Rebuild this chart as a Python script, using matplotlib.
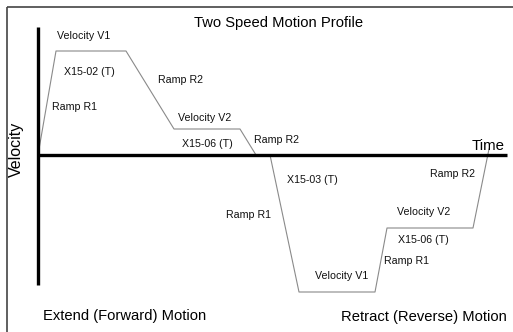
"""Two speed motion profile diagram."""
import matplotlib
matplotlib.use("Agg")
import matplotlib.pyplot as plt

plt.rcParams["font.family"] = ["Liberation Sans", "DejaVu Sans"]

# profile breakpoints (time, velocity) in drawing units
time_pts = [38, 56, 126, 174, 240, 256, 270, 299, 375, 387, 473, 489]
vel_pts = [0, 104, 104, 26, 26, 0, 0, -137, -137, -73, -73, 6]

# segment labels: (text, time, velocity)
seg_labels = [
    ("Velocity V1", 84, 119),
    ("X15-02 (T)", 89, 83),
    ("Ramp R1", 74, 48),
    ("Ramp R2", 180, 75),
    ("Velocity V2", 205, 37),
    ("X15-06 (T)", 207, 11),
    ("Ramp R2", 277, 15),
    ("X15-03 (T)", 312, -25),
    ("Ramp R1", 249, -60),
    ("Ramp R2", 453, -19),
    ("Velocity V2", 424, -57),
    ("X15-06 (T)", 423, -85),
    ("Ramp R1", 406, -106),
    ("Velocity V1", 342, -121),
]

fig = plt.figure(figsize=(5.13, 3.32), dpi=100, facecolor="white")
ax = fig.add_axes([0, 0, 1, 1])
ax.set_xlim(0, 513)
ax.set_ylim(-177, 155)
ax.axis("off")

# frame
ax.plot([6.5, 513], [148, 148], color="#444", lw=1.2, solid_capstyle="butt")
ax.plot([6.5, 6.5], [148, -177], color="#444", lw=1.2, solid_capstyle="butt")

# axes
ax.plot([37.5, 37.5], [128, -130], color="black", lw=2.4, solid_capstyle="butt")
ax.plot([37, 507], [0, 0], color="black", lw=2.4, solid_capstyle="butt")

# profile
ax.plot(time_pts, vel_pts, color="#8a8a8a", lw=0.8, zorder=1)

for txt, t, v in seg_labels:
    ax.text(t, v, txt, fontsize=7.7, ha="center", va="center", color="#111")

ax.text(279, 132, "Two Speed Motion Profile", fontsize=10.6, ha="center", va="center")
ax.text(505, 2, "Time", fontsize=10.8, ha="right", va="bottom")
ax.text(16, 6, "Velocity", fontsize=11.5, ha="center", va="center", rotation=90)
ax.text(43, -161, "Extend (Forward) Motion", fontsize=10.6, ha="left", va="center")
ax.text(507, -162, "Retract (Reverse) Motion", fontsize=10.6, ha="right", va="center")

fig.savefig("out.png", dpi=100, facecolor="white")
plt.close(fig)
